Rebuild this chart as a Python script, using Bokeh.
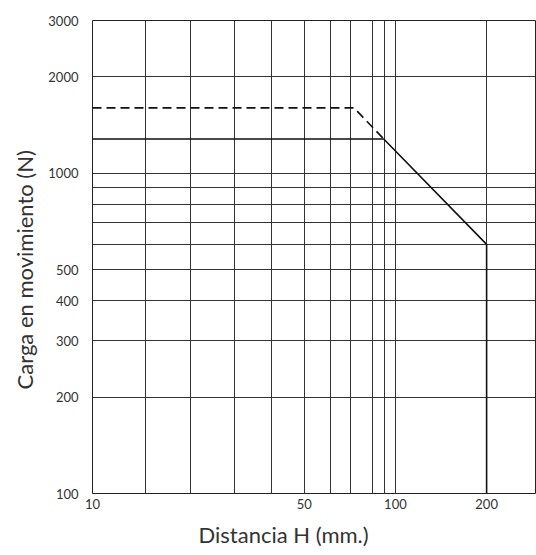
from bokeh.plotting import figure
from bokeh.models import FixedTicker, PrintfTickFormatter, Title
from bokeh.embed import file_html
from bokeh.resources import INLINE

# ---- data ----
x_range_vals = [10, 290]
y_range_vals = [100, 3000]
x_tick_labels = [10, 50, 100, 200]
x_grid_vals = [10, 15, 21, 29.5, 39, 50, 61, 71, 84, 92, 100, 200, 290]
y_tick_labels = [100, 200, 300, 400, 500, 1000, 2000, 3000]
y_grid_vals = [100, 200, 300, 400, 500, 600, 700, 800, 900, 1000, 2000, 3000]

solid_x = [10, 91.5, 200, 200]
solid_y = [1280, 1280, 600, 100]
dashed_x = [10, 73, 91.5]
dashed_y = [1600, 1600, 1280]

FONT = "Lato"

p = figure(width=536, height=555, x_axis_type="log", y_axis_type="log",
           x_range=tuple(x_range_vals), y_range=tuple(y_range_vals),
           output_backend="svg", toolbar_location=None,
           min_border_left=92, min_border_right=1, min_border_top=20,
           min_border_bottom=61)
p.background_fill_color = "white"
p.border_fill_color = "white"
p.outline_line_color = "#222222"
p.outline_line_width = 1

p.xaxis.ticker = FixedTicker(ticks=x_tick_labels)
p.yaxis.ticker = FixedTicker(ticks=y_tick_labels)
p.xgrid.ticker = FixedTicker(ticks=x_grid_vals)
p.ygrid.ticker = FixedTicker(ticks=y_grid_vals)
for g in (p.xgrid, p.ygrid):
    g.grid_line_color = "#333333"
    g.grid_line_width = 1
    g.grid_line_alpha = 1

for ax in (p.xaxis, p.yaxis):
    ax.formatter = PrintfTickFormatter(format="%d")
    ax.axis_line_color = None
    ax.major_tick_line_color = None
    ax.minor_tick_line_color = None
    ax.major_tick_out = 0
    ax.major_tick_in = 0
    ax.major_label_text_font = FONT
    ax.major_label_text_font_size = "13px"
    ax.major_label_text_color = "#333333"

p.xaxis.major_label_text_align = "left"
p.xaxis.major_label_standoff = 5
p.yaxis.major_label_standoff = 14

p.line(solid_x, solid_y, line_color="#111111", line_width=1.6)
p.line(dashed_x, dashed_y, line_color="#111111", line_width=1.6, line_dash="9 5")

p.add_layout(Title(text="Distancia H (mm.)", align="left", offset=106, standoff=15,
                   text_font=FONT, text_font_size="22px", text_font_style="normal",
                   text_color="#333333"), "below")
p.add_layout(Title(text="Carga en movimiento (N)", align="left", offset=104, standoff=16,
                   text_font=FONT, text_font_size="22px", text_font_style="normal",
                   text_color="#333333"), "left")

open("out.html", "w").write(file_html(p, INLINE))
